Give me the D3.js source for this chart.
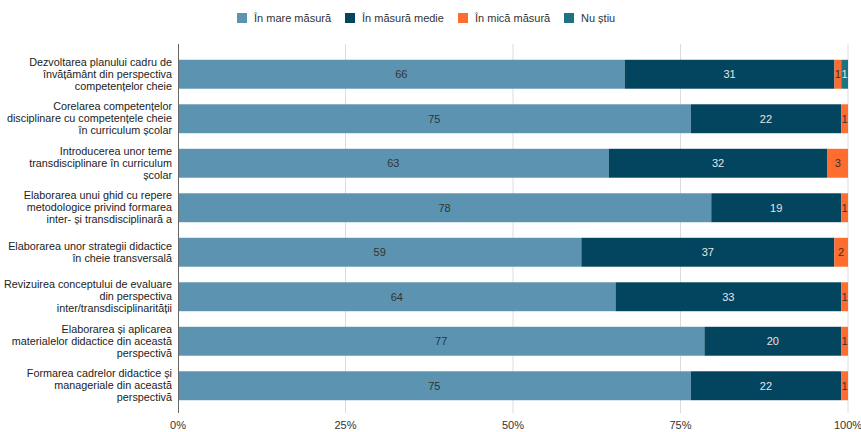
<!DOCTYPE html>
<html>
<head>
<meta charset="utf-8">
<script src="https://cdn.jsdelivr.net/npm/d3@7"></script>
<style>
  html, body { margin: 0; padding: 0; background: #fff; }
  svg { display: block; font-family: "Liberation Sans", Arial, sans-serif; }
</style>
</head>
<body>
<svg id="chart" width="861" height="432"></svg>
<script>
// Survey items (label lines already wrapped)
const categories = [
  ["Dezvoltarea planului cadru de", "învățământ din perspectiva", "competențelor cheie"],
  ["Corelarea competențelor", "disciplinare cu competențele cheie", "în curriculum școlar"],
  ["Introducerea unor teme", "transdisciplinare în curriculum", "școlar"],
  ["Elaborarea unui ghid cu repere", "metodologice privind formarea", "inter- și transdisciplinară a"],
  ["Elaborarea unor strategii didactice", "în cheie transversală"],
  ["Revizuirea conceptului de evaluare", "din perspectiva", "inter/transdisciplinarității"],
  ["Elaborarea și aplicarea", "materialelor didactice din această", "perspectivă"],
  ["Formarea cadrelor didactice și", "manageriale din această", "perspectivă"]
];

const seriesNames = ["În mare măsură", "În măsură medie", "În mică măsură", "Nu știu"];
const seriesColors = ["#5b93b0", "#03445f", "#fe6c2e", "#1e7383"];
const labelColors = ["#333333", "#e6e6e6", "#333333", "#e6e6e6"];

const inMareMasura  = [66, 75, 63, 78, 59, 64, 77, 75];
const inMasuraMedie = [31, 22, 32, 19, 37, 33, 20, 22];
const inMicaMasura  = [1, 1, 3, 1, 2, 1, 1, 1];
const nuStiu        = [1, 0, 0, 0, 0, 0, 0, 0];

const tickValues = [0, 0.25, 0.5, 0.75, 1];
const tickLabels = ["0%", "25%", "50%", "75%", "100%"];

const seriesValues = [inMareMasura, inMasuraMedie, inMicaMasura, nuStiu];

// Rows normalised to 100%
const rows = categories.map((c, i) => {
  const vals = seriesValues.map(s => s[i]);
  const total = d3.sum(vals);
  let acc = 0;
  const segs = vals.map((v, k) => {
    const seg = { k, v, x0: acc / total, x1: (acc + v) / total };
    acc += v;
    return seg;
  });
  return { i, label: c, segs };
});

const svg = d3.select("#chart");
const plotLeft = 178, plotRight = 848, plotTop = 44, plotBottom = 413;

const x = d3.scaleLinear().domain([0, 1]).range([plotLeft, plotRight]);
const y = d3.scaleBand()
  .domain(d3.range(categories.length))
  .range([52, 408])
  .paddingInner(0.35)
  .paddingOuter(0.175);

// Vertical gridlines
svg.append("g")
  .selectAll("line")
  .data(tickValues.slice(1))
  .join("line")
  .attr("x1", d => x(d)).attr("x2", d => x(d))
  .attr("y1", plotTop).attr("y2", plotBottom)
  .attr("stroke", "#dcdcdc").attr("stroke-width", 1);

// Bars
const rowG = svg.append("g").selectAll("g")
  .data(rows)
  .join("g");

rowG.selectAll("rect")
  .data(d => d.segs.filter(s => s.v > 0).map(s => ({ ...s, row: d.i })))
  .join("rect")
  .attr("x", s => x(s.x0))
  .attr("width", s => x(s.x1) - x(s.x0))
  .attr("y", s => y(s.row))
  .attr("height", y.bandwidth())
  .attr("fill", s => seriesColors[s.k]);

rowG.selectAll("text")
  .data(d => d.segs.filter(s => s.v > 0).map(s => ({ ...s, row: d.i })))
  .join("text")
  .attr("x", s => (x(s.x0) + x(s.x1)) / 2)
  .attr("y", s => y(s.row) + y.bandwidth() / 2)
  .attr("dy", "0.35em")
  .attr("text-anchor", "middle")
  .attr("font-size", 11)
  .attr("fill", s => labelColors[s.k])
  .text(s => s.v);

// Category axis line
svg.append("line")
  .attr("x1", plotLeft + 0.5).attr("x2", plotLeft + 0.5)
  .attr("y1", plotTop).attr("y2", plotBottom)
  .attr("stroke", "#666").attr("stroke-width", 1);

// Category labels
const lineH = 12;
const catG = svg.append("g").selectAll("text")
  .data(rows)
  .join("text")
  .attr("text-anchor", "end")
  .attr("font-size", 10.8)
  .attr("fill", "#222");
catG.each(function(d) {
  const t = d3.select(this);
  const n = d.label.length;
  const cy = y(d.i) + y.bandwidth() / 2 - 0.5;
  d.label.forEach((ln, j) => {
    t.append("tspan")
      .attr("x", plotLeft - 6)
      .attr("y", cy + (j - (n - 1) / 2) * lineH)
      .attr("dy", "0.35em")
      .text(ln);
  });
});

// Percentage axis labels
svg.append("g").selectAll("text")
  .data(tickValues)
  .join("text")
  .attr("x", d => x(d))
  .attr("y", 425)
  .attr("dy", "0.35em")
  .attr("text-anchor", "middle")
  .attr("font-size", 11)
  .attr("fill", "#333")
  .text((d, i) => tickLabels[i]);

// Legend
const legendX = [237, 345, 458, 564];
const lg = svg.append("g").selectAll("g")
  .data(seriesNames)
  .join("g")
  .attr("transform", (d, i) => `translate(${legendX[i]},18)`);
lg.append("rect")
  .attr("x", 0).attr("y", -5)
  .attr("width", 10).attr("height", 10)
  .attr("fill", (d, i) => seriesColors[i]);
lg.append("text")
  .attr("x", 17).attr("y", 0)
  .attr("dy", "0.35em")
  .attr("font-size", 11)
  .attr("fill", "#333")
  .text(d => d);
</script>
</body>
</html>
